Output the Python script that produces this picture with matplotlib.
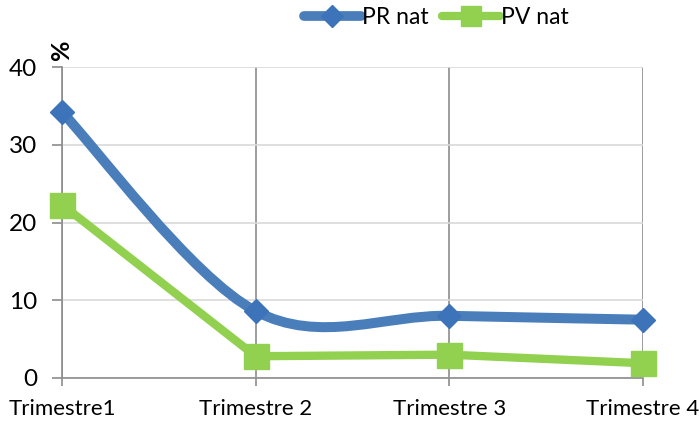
import numpy as np
import matplotlib
matplotlib.use('Agg')
import matplotlib.pyplot as plt
from matplotlib.path import Path
from matplotlib.patches import PathPatch
from matplotlib.lines import Line2D

plt.rcParams['font.family'] = ['Lato', 'DejaVu Sans']

# Data
categories = ['Trimestre1', 'Trimestre 2', 'Trimestre 3', 'Trimestre 4']
pr_nat = [34.2, 8.6, 8.0, 7.5]
pv_nat = [22.3, 2.8, 3.0, 1.9]

blue = '#4A7EBB'
blue_marker = '#3D74B9'
green = '#92D050'

fig = plt.figure(figsize=(6.99, 4.21), dpi=100)
ax = fig.add_axes([62 / 699, 1 - 378 / 421, (643 - 62) / 699, (378 - 67) / 421])

x = np.arange(len(categories))


def smooth_path(xs, ys):
    # Excel-style smoothed line (Catmull-Rom converted to cubic Bezier)
    pts = np.column_stack([xs, ys]).astype(float)
    n = len(pts)
    verts = [pts[0]]
    codes = [Path.MOVETO]
    for i in range(n - 1):
        p0 = pts[i - 1] if i > 0 else pts[i]
        p1 = pts[i]
        p2 = pts[i + 1]
        p3 = pts[i + 2] if i + 2 < n else pts[i + 1]
        c1 = p1 + (p2 - p0) / 6
        c2 = p2 - (p3 - p1) / 6
        verts += [c1, c2, p2]
        codes += [Path.CURVE4] * 3
    return Path(verts, codes)


# PR nat: smoothed line
ax.add_patch(PathPatch(smooth_path(x, pr_nat), facecolor='none', edgecolor=blue,
                       lw=7.2, capstyle='round', joinstyle='round', zorder=3, clip_on=False))
ax.plot(x, pr_nat, ls='none', marker='D', ms=12.5, color=blue_marker, zorder=4, clip_on=False)

# PV nat: straight line
ax.plot(x, pv_nat, color=green, lw=6, marker='s', ms=18, solid_joinstyle='round',
        solid_capstyle='round', zorder=3, clip_on=False)

ax.set_xlim(0, 3)
ax.set_ylim(0, 40)
ax.set_yticks([0, 10, 20, 30, 40])
ax.set_xticks(x)
ax.set_xticklabels(categories)

ax.grid(axis='y', color='#D9D9D9', lw=1.2)
ax.grid(axis='x', color='#8C8C8C', lw=1.2)
ax.set_axisbelow(True)

for side in ['top', 'right']:
    ax.spines[side].set_visible(False)
for side in ['left', 'bottom']:
    ax.spines[side].set_color('#8C8C8C')
    ax.spines[side].set_linewidth(1.2)

ax.tick_params(axis='both', colors='#8C8C8C', labelcolor='black', width=1.2)
ax.tick_params(axis='y', length=7, pad=11, labelsize=17.5)
ax.tick_params(axis='x', length=6, pad=9, labelsize=16)

fig.text(62 / 699, 1 - 50 / 421, '%', rotation=90, fontsize=18, fontweight='bold',
         ha='center', va='center')

handles = [
    Line2D([], [], color=blue, lw=7, marker='D', ms=11, markerfacecolor=blue_marker,
           markeredgecolor=blue_marker, solid_capstyle='round'),
    Line2D([], [], color=green, lw=6, marker='s', ms=14, solid_capstyle='round'),
]
fig.legend(handles, ['PR nat', 'PV nat'], loc='center', bbox_to_anchor=(436 / 699, 1 - 18 / 421),
           ncol=2, frameon=False, fontsize=16.5, handlelength=2.5, handletextpad=0.05,
           columnspacing=0.6)

fig.savefig('out.png', dpi=100)
